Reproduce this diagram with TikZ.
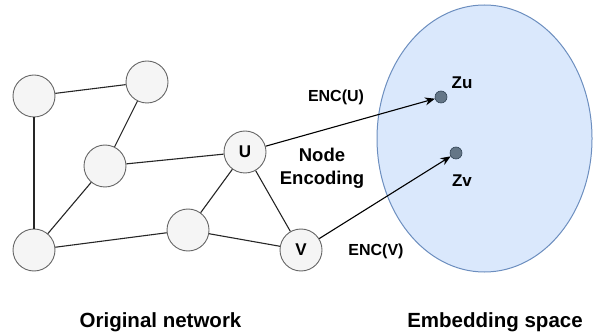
\documentclass[tikz,border=0pt]{standalone}
\usepackage{fontspec}
\setmainfont{Liberation Sans}
\usetikzlibrary{arrows.meta}

\definecolor{nodegray}{HTML}{F5F5F5}
\definecolor{linegray}{HTML}{666666}
\definecolor{spacefill}{HTML}{DAE8FC}
\definecolor{spaceline}{HTML}{6C8EBF}
\definecolor{ptfill}{HTML}{647687}
\definecolor{ptline}{HTML}{314354}

\begin{document}
\begin{tikzpicture}[x=1pt, y=-1pt, font=\bfseries,
        vertex/.style={circle, draw=linegray, fill=nodegray, line width=0.9pt, minimum size=42pt, inner sep=0pt, font=\bfseries\fontsize{17}{20}\selectfont},
        embpt/.style={circle, draw=ptline, fill=ptfill, line width=0.6pt, minimum size=12pt, inner sep=0pt},
        edge/.style={line width=1.1pt, black!85},
        enc/.style={line width=1.1pt, -{Stealth[length=10pt, width=8pt]}},
        lbl/.style={inner sep=0pt, font=\bfseries\fontsize{16}{19}\selectfont},
        caption/.style={inner sep=0pt, font=\bfseries\fontsize{20.5}{24}\selectfont}]
    \useasboundingbox (0,0) rectangle (593,336);

    % embedding space
    \draw[fill=spacefill, draw=spaceline, line width=1pt] (484.5,138.5) ellipse [x radius=107.5, y radius=133.5];

    % graph
    \node[vertex] (a) at (34,96) {};
    \node[vertex] (b) at (147,82) {};
    \node[vertex] (c) at (105,166) {};
    \node[vertex] (d) at (34,250) {};
    \node[vertex] (e) at (188,230) {};
    \node[vertex] (u) at (245,152) {U};
    \node[vertex] (v) at (301,250) {V};

    \draw[edge] (a) -- (b);
    \draw[edge] (a) -- (d);
    \draw[edge] (b) -- (c);
    \draw[edge] (c) -- (u);
    \draw[edge] (c) -- (d);
    \draw[edge] (d) -- (e);
    \draw[edge] (e) -- (u);
    \draw[edge] (e) -- (v);
    \draw[edge] (u) -- (v);

    % embedded points
    \node[embpt] (zu) at (441,97) {};
    \node[embpt] (zv) at (456,153) {};
    \node[lbl, font=\bfseries\fontsize{17}{20}\selectfont] at (462,83) {Zu};
    \node[lbl, font=\bfseries\fontsize{17}{20}\selectfont] at (462,181) {Zv};

    \draw[enc] (u) -- (zu);
    \draw[enc] (v) -- (zv);

    \node[lbl] (encu) at (336,97) {ENC(U)};
    \node[lbl] (encv) at (376,251) {ENC(V)};
    \node[inner sep=0pt, align=center, font=\bfseries\fontsize{18.5}{23}\selectfont] (nodeenc) at (322,168) {Node\\Encoding};

    \node[caption] (orig) at (160.5,322) {Original network};
    \node[caption] (emb) at (495,322) {Embedding space};
\end{tikzpicture}
\end{document}
